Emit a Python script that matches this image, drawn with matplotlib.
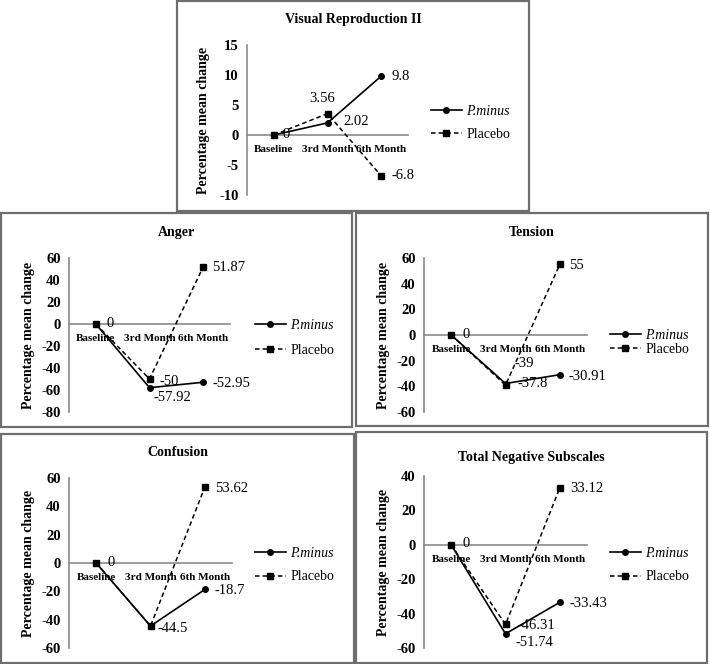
import matplotlib
matplotlib.use('Agg')
import matplotlib.pyplot as plt
from matplotlib.patches import Rectangle

plt.rcParams['font.family'] = ['Liberation Serif', 'DejaVu Serif']

# data
months = ['Baseline', '3rd Month', '6th Month']
series_names = ['P.minus', 'Placebo']

visual_pminus = [0, 2.02, 9.8]
visual_placebo = [0, 3.56, -6.8]
anger_pminus = [0, -57.92, -52.95]
anger_placebo = [0, -50, 51.87]
tension_pminus = [0, -37.8, -30.91]
tension_placebo = [0, -39, 55]
confusion_pminus = [0, -44.5, -18.7]
confusion_placebo = [0, -44.5, 53.62]
total_pminus = [0, -51.74, -33.43]
total_placebo = [0, -46.31, 33.12]

W, H = 710, 664
fig = plt.figure(figsize=(W / 100, H / 100), dpi=100)
fig.patch.set_facecolor('white')

GRAY = '#8a8a8a'

# layout in pixels: box, axes, title y, legend (x, top, spacing), y ticks, label offsets
panels = [
    dict(title='Visual Reproduction II', pm=visual_pminus, pl=visual_placebo,
         box=(177, 1, 529, 211), ax=(247, 45, 408, 195), title_y=20,
         leg=(431, 105, 0.7), yt=range(-10, 16, 5), ylab=37,
         lab_pm=[(9, 1), (16, 1), (10, 0)], lab_pl=[None, (-5, 15, 'c'), (10, 0)]),
    dict(title='Anger', pm=anger_pminus, pl=anger_placebo,
         box=(1, 213, 352, 427), ax=(69, 258, 230, 412), title_y=233,
         leg=(255, 319, 0.85), yt=range(-80, 61, 20), ylab=34,
         lab_pm=[(11, 1), (4, -10), (9, -1)], lab_pl=[None, (10, -2), (9, -1)]),
    dict(title='Tension', pm=tension_pminus, pl=tension_placebo,
         box=(356, 213, 708, 426), ax=(424, 258, 587, 412), title_y=233,
         leg=(610, 329, 0.05), yt=range(-60, 61, 20), ylab=34,
         lab_pm=[(11, 1), (12, 0), (9, -2)], lab_pl=[None, (9, 22), (9, -1)]),
    dict(title='Confusion', pm=confusion_pminus, pl=confusion_placebo,
         box=(1, 434, 354, 663), ax=(69, 478, 232, 648), title_y=453,
         leg=(255, 547, 0.75), yt=range(-60, 61, 20), ylab=34,
         lab_pm=[(11, 1), (7, -2), (10, -1)], lab_pl=[None, None, (10, -1)]),
    dict(title='Total Negative Subscales', pm=total_pminus, pl=total_placebo,
         box=(356, 432, 707, 663), ax=(424, 476, 587, 648), title_y=458,
         leg=(610, 547, 0.75), yt=range(-60, 41, 20), ylab=34,
         lab_pm=[(11, 1), (10, -9), (10, -1)], lab_pl=[None, (12, -1), (10, -1)]),
]


def fmt(v):
    return '%g' % v


for p in panels:
    bl, bt, br, bb = p['box']
    fig.add_artist(Rectangle((bl / W, 1 - bb / H), (br - bl) / W, (bb - bt) / H,
                             transform=fig.transFigure, fill=False,
                             ec='#6e6e6e', lw=1.6))
    fig.text((bl + br) / 2 / W, 1 - p['title_y'] / H, p['title'],
             ha='center', va='center', fontsize=10, fontweight='bold')

    l, t, r, b = p['ax']
    ax = fig.add_axes([l / W, 1 - b / H, (r - l) / W, (b - t) / H])
    x = range(len(months))
    ax.plot(x, p['pm'], color='black', lw=1.2, marker='o', ms=4,
            label=series_names[0], zorder=3)
    ax.plot(x, p['pl'], color='black', lw=1.1, ls=(0, (3, 2)), marker='s',
            ms=4, label=series_names[1], zorder=3)

    # spine position first: it resets the ticks
    for s in ['top', 'right']:
        ax.spines[s].set_visible(False)
    ax.spines['bottom'].set_position(('data', 0))
    ax.spines['bottom'].set_color(GRAY)
    ax.spines['left'].set_color(GRAY)
    ax.spines['bottom'].set_linewidth(1.2)
    ax.spines['left'].set_linewidth(1.2)
    ax.patch.set_alpha(0)

    ax.tick_params(axis='both', length=0)
    ax.tick_params(axis='y', pad=6)
    ax.tick_params(axis='x', pad=7)

    yt = list(p['yt'])
    ax.set_ylim(yt[0], yt[-1])
    ax.set_xlim(-0.5, 2.5)
    ax.set_yticks(yt)
    ax.set_yticklabels([str(v) for v in yt], fontsize=10.5, fontweight='bold')
    ax.set_xticks(list(x))
    ax.set_xticklabels(months, fontsize=8, fontweight='bold')

    ax.set_ylabel('Percentage mean change', fontsize=10, fontweight='bold')
    ax.yaxis.set_label_coords(-p['ylab'] / (r - l), 0.5)

    for vals, offs in ((p['pm'], p['lab_pm']), (p['pl'], p['lab_pl'])):
        for i, (v, o) in enumerate(zip(vals, offs)):
            if o is None:
                continue
            ha = 'center' if len(o) > 2 else 'left'
            ax.annotate(fmt(v), (i, v), xytext=(o[0], o[1]),
                        textcoords='offset pixels', ha=ha, va='center',
                        fontsize=10.5)

    lx, ltop, lsp = p['leg']
    leg = ax.legend(loc='upper left', bbox_to_anchor=(lx / W, 1 - ltop / H),
                    bbox_transform=fig.transFigure, frameon=False,
                    fontsize=10, borderpad=0, borderaxespad=0,
                    handlelength=2.2, handletextpad=0.35, labelspacing=lsp)
    leg.get_texts()[0].set_style('italic')

fig.savefig('out.png', dpi=100, facecolor='white')
